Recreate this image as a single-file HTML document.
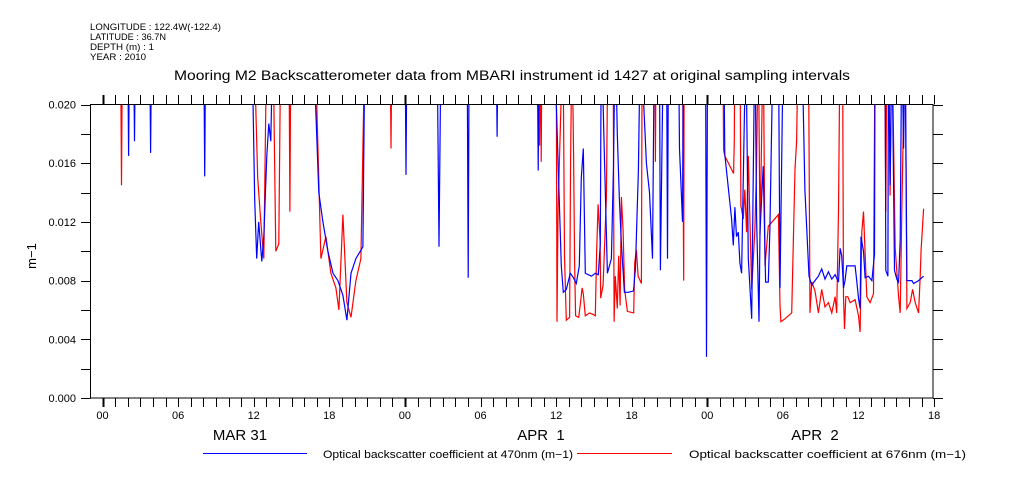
<!DOCTYPE html>
<html><head><meta charset="utf-8">
<style>
html,body{margin:0;padding:0;background:#fff;}
svg{display:block;font-family:"Liberation Sans",sans-serif;}
</style></head>
<body>
<svg id="chart" width="1009" height="504" viewBox="0 0 1009 504">
<g font-size="9" fill="#000">
<text x="90" y="30" textLength="131" lengthAdjust="spacingAndGlyphs">LONGITUDE : 122.4W(-122.4)</text>
<text x="90" y="40" textLength="76" lengthAdjust="spacingAndGlyphs">LATITUDE : 36.7N</text>
<text x="90" y="50" textLength="64" lengthAdjust="spacingAndGlyphs">DEPTH (m) : 1</text>
<text x="90" y="60" textLength="56" lengthAdjust="spacingAndGlyphs">YEAR : 2010</text>
</g>
<text x="174" y="80" textLength="676" lengthAdjust="spacingAndGlyphs" font-size="13.5">Mooring M2 Backscatterometer data from MBARI instrument id 1427 at original sampling intervals</text>
<text transform="translate(36,256) rotate(-90)" text-anchor="middle" font-size="13">m−1</text>
<defs><clipPath id="plotclip"><rect x="90.5" y="104.5" width="842.5" height="293.5"/></clipPath></defs>
<g id="axes"></g>
<g id="series" clip-path="url(#plotclip)"></g>
<rect x="90.5" y="104.5" width="842.5" height="293.5" fill="none" stroke="#000" stroke-width="1"/>
<g font-size="15">
<text x="240" y="440" text-anchor="middle">MAR 31</text>
<text x="541" y="440" text-anchor="middle" xml:space="preserve">APR  1</text>
<text x="815" y="440" text-anchor="middle" xml:space="preserve">APR  2</text>
</g>
<g font-size="11">
<line x1="203" y1="453.5" x2="307" y2="453.5" stroke="#0000ff"/>
<text x="323" y="458" textLength="250" lengthAdjust="spacingAndGlyphs">Optical backscatter coefficient at 470nm (m−1)</text>
<line x1="577" y1="453.5" x2="672" y2="453.5" stroke="#ff0000"/>
<text x="689" y="458" textLength="277" lengthAdjust="spacingAndGlyphs">Optical backscatter coefficient at 676nm (m−1)</text>
</g>
</svg>
<script>
// hours since 2010-03-31 00:00 ; values in m-1 (0.025 = off-scale, clipped)
const blueHours=[-0.72,1.99,2.07,2.15,2.46,2.54,2.62,3.74,3.82,3.90,8.03,8.11,8.19,11.85,12.08,12.24,12.40,12.64,12.80,13.04,13.20,13.36,13.52,16.70,17.17,17.49,17.89,18.29,18.68,19.08,19.40,19.72,20.11,20.67,20.83,24.01,24.09,24.17,26.55,26.71,26.87,28.94,29.02,29.10,31.24,31.32,31.40,34.50,34.58,34.66,35.85,36.09,36.41,36.57,36.81,37.13,37.37,37.60,37.84,38.00,38.16,38.32,38.80,39.11,39.35,39.51,39.59,39.83,40.07,40.39,40.55,40.70,40.86,41.02,41.18,41.42,41.74,42.14,42.29,42.53,42.69,43.17,43.41,43.65,43.80,44.20,44.28,44.52,44.76,44.84,44.92,45.71,45.79,46.03,46.11,47.86,47.94,48.02,49.29,49.39,49.66,49.93,50.06,50.19,50.32,50.46,50.59,50.72,51.06,51.25,51.52,51.65,51.78,51.91,52.10,52.18,52.44,52.63,52.84,52.97,53.24,53.64,53.77,54.04,55.49,55.75,56.07,56.29,56.55,56.82,57.08,57.34,57.61,57.88,58.14,58.41,58.54,58.67,58.81,58.93,59.07,59.73,59.86,60.00,60.13,60.20,60.40,60.52,60.79,61.06,61.27,61.32,62.11,62.17,62.33,62.38,62.51,62.65,62.86,63.04,63.18,63.31,63.44,63.58,63.70,63.84,64.24,64.37,64.77,65.17];
const blueValues=[.025,.025,.0165,.025,.025,.0175,.025,.025,.0167,.025,.025,.0151,.025,.025,.0135,.0095,.012,.0093,.011,.0165,.0187,.0175,.025,.025,.014,.012,.01,.0085,.008,.007,.0053,.0085,.0095,.0103,.025,.025,.0152,.025,.025,.0103,.025,.025,.0082,.025,.025,.0178,.025,.025,.0155,.025,.025,.018,.009,.0072,.0074,.0085,.0082,.0078,.009,.015,.017,.0085,.0083,.0085,.0084,.0105,.025,.0165,.0085,.0095,.0155,.025,.018,.0135,.0105,.0072,.0072,.0073,.0088,.0155,.025,.016,.014,.0095,.025,.025,.0087,.025,.025,.0095,.025,.025,.017,.012,.025,.025,.0028,.025,.025,.0166,.0144,.0122,.0104,.013,.011,.0113,.0092,.0085,.025,.0095,.0054,.0155,.025,.0122,.0052,.0113,.0158,.0079,.0079,.0115,.025,.025,.0075,.025,.025,.0142,.0083,.0077,.008,.0083,.0088,.0081,.0086,.0081,.0084,.0079,.0102,.0097,.0075,.008,.009,.009,.008,.0068,.0061,.011,.01,.0082,.0083,.008,.0098,.025,.025,.0087,.0083,.025,.0145,.025,.0087,.0081,.0079,.0108,.025,.017,.025,.008,.008,.0078,.008,.0083];
const redHours=[-0.72,1.43,1.51,1.59,12.00,12.32,12.56,12.80,13.04,13.52,13.75,13.99,14.15,14.79,14.87,14.95,16.85,17.33,17.73,18.13,18.52,18.76,19.08,19.40,19.72,20.11,20.51,20.83,22.82,22.90,22.98,34.64,34.69,34.77,34.82,34.88,36.01,36.07,36.15,36.55,36.67,36.81,37.07,37.15,37.26,37.39,37.47,37.55,37.79,37.95,38.06,38.16,38.32,38.66,38.93,39.11,39.22,39.33,39.49,39.54,39.73,39.85,39.99,40.12,40.52,40.60,40.70,40.86,40.97,41.08,41.18,41.32,41.44,41.66,42.16,42.24,42.37,42.51,42.77,42.83,43.83,43.88,43.94,46.03,46.09,46.13,46.17,49.23,49.29,49.39,50.09,50.14,50.19,50.59,50.67,50.86,50.98,51.12,51.25,51.52,51.78,51.91,52.05,52.18,52.31,52.44,52.58,52.84,53.64,53.77,53.84,54.16,54.70,54.96,55.09,55.23,56.02,56.15,56.29,56.55,56.82,57.08,57.34,57.61,57.88,58.14,58.27,58.41,58.54,58.73,58.81,58.89,58.99,59.15,59.33,59.73,60.00,60.13,60.26,60.40,60.52,60.66,60.92,61.19,61.32,62.06,62.17,62.25,62.38,62.51,62.65,62.91,63.18,63.31,63.44,63.70,63.84,64.10,64.29,64.50,64.77,64.90,64.97,65.17];
const redValues=[.025,.025,.0145,.025,.025,.015,.012,.0095,.025,.025,.01,.0105,.025,.025,.0127,.025,.025,.0095,.011,.0085,.0075,.006,.0125,.0065,.0055,.008,.0095,.025,.025,.017,.025,.025,.0172,.025,.0161,.025,.025,.0052,.0126,.025,.0097,.0053,.0055,.0162,.025,.0165,.0092,.0056,.0055,.0066,.0075,.0071,.0056,.0058,.0057,.0056,.0101,.0132,.0107,.0068,.0077,.0104,.0137,.025,.025,.0052,.0083,.0061,.0097,.0063,.0137,.0114,.0074,.0059,.0058,.0092,.0101,.0083,.0078,.025,.025,.0161,.025,.025,.0139,.008,.025,.025,.0169,.0165,.0153,.0176,.025,.025,.0131,.0122,.0142,.0113,.0165,.0074,.0115,.016,.025,.0111,.0177,.025,.009,.0117,.0125,.0063,.0052,.0054,.0058,.0156,.0175,.025,.025,.0058,.0079,.0073,.0058,.0074,.0062,.0065,.0058,.0069,.0058,.0127,.025,.025,.0069,.0047,.0069,.0069,.0065,.0067,.0056,.0045,.0113,.0127,.0099,.0069,.0065,.0071,.025,.025,.0127,.025,.025,.0138,.025,.0102,.0069,.0058,.0127,.025,.0061,.0065,.0074,.0065,.0058,.0083,.0101,.0129];
const yTickValues=[0.000,0.004,0.008,0.012,0.016,0.020];
const yTickLabels=["0.000","0.004","0.008","0.012","0.016","0.020"];
const xTickHours=[0,6,12,18,24,30,36,42,48,54,60,66];
const xTickLabels=["00","06","12","18","00","06","12","18","00","06","12","18"];

const NS="http://www.w3.org/2000/svg";
const X0=102.5, PXH=12.6, YB=398, YT=104.5, VMAX=0.02;
function xs(h){return X0+h*PXH;}
function ys(v){return YB-(v/VMAX)*(YB-YT);}
const axes=document.getElementById('axes');
const series=document.getElementById('series');
function mk(tag,attrs,parent){const e=document.createElementNS(NS,tag);for(const k in attrs)e.setAttribute(k,attrs[k]);parent.appendChild(e);return e;}

for(let h=0;h<=66;h++){
  const x=Math.round(xs(h))+0.5;
  const major=(h%24===0);
  const t=mk('line',{x1:x,y1:95,x2:x,y2:104.5,stroke:'#000','stroke-width':major?2:1},axes);
  
  
  const b=mk('line',{x1:x,y1:398,x2:x,y2:407,stroke:'#000','stroke-width':major?2:1},axes);
  
  
}
xTickHours.forEach((h,i)=>{
  const t=mk('text',{x:xs(h),y:419,'text-anchor':'middle','font-size':11},axes);
  t.textContent=xTickLabels[i];
  
  
});
for(let k=0;k<=10;k++){
  const v=k*0.002;
  const y=Math.round(ys(v))+0.5;
  const l=mk('line',{x1:81,y1:y,x2:90.5,y2:y,stroke:'#000'},axes);
  
  
  const r=mk('line',{x1:933,y1:y,x2:943,y2:y,stroke:'#000'},axes);
  
  
}
yTickValues.forEach((v,i)=>{
  const t=mk('text',{x:76,y:ys(v)+4,'text-anchor':'end','font-size':11},axes);
  t.textContent=yTickLabels[i];
  
  
});
function drawSeries(hours,vals,color,name){
  const pts=hours.map((h,i)=>xs(h).toFixed(1)+','+ys(vals[i]).toFixed(1)).join(' ');
  const p=mk('polyline',{points:pts,fill:'none',stroke:color,'stroke-width':1.2,'stroke-linejoin':'miter'},series);
  
  
}
drawSeries(redHours,redValues,'#ff0000','series-676nm-line');
drawSeries(blueHours,blueValues,'#0000ff','series-470nm-line');
</script>
</body></html>
